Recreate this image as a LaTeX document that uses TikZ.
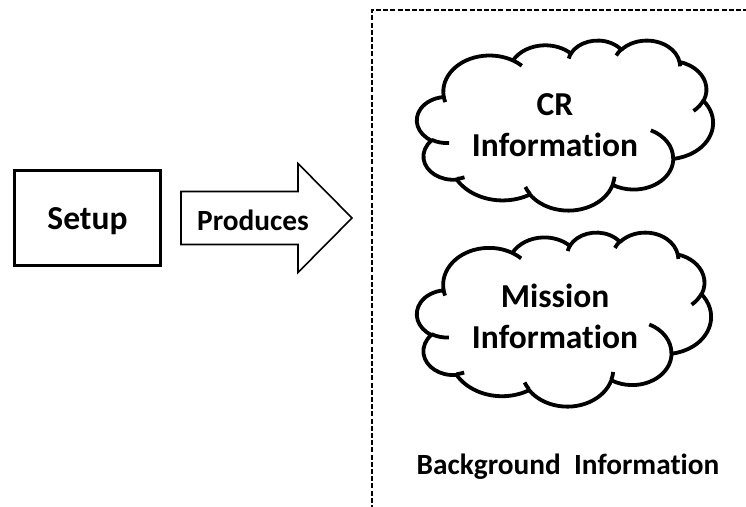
\documentclass[tikz,border=0pt]{standalone}
\usepackage{fontspec}
\setmainfont{Carlito}[RawFeature=-liga]
\usetikzlibrary{calc}

\tikzset{
  % geometric (visual) angle on an ellipse -> parametric angle
  declare function={cpar(\a,\w,\h)=atan2(\w*sin(\a),\h*cos(\a));},
  cloud arc/.style n args={4}{x radius=#1, y radius=#2,
    start angle={cpar(#3,#1,#2)},
    delta angle={mod(cpar(#3+#4,#1,#2)-cpar(#3,#1,#2)+720,360)}},
  cloudline/.style={line width=3.8pt, line join=round},
  foldline/.style={line width=3.8pt, line cap=butt},
  boxstyle/.style={draw, line width=3.2pt, minimum width=146pt, minimum height=95pt, inner sep=0pt},
  arrowstyle/.style={draw, line width=1.6pt, line join=miter},
  frameline/.style={line width=1.6pt, dash pattern=on 5pt off 2.2pt},
  bigtext/.style={font=\fontsize{33.5}{41}\selectfont\bfseries, align=center, inner sep=0pt},
  midtext/.style={font=\fontsize{29.3}{34}\selectfont\bfseries, inner sep=0pt},
}

% cloud outline in a 432 x 432 unit box, placed with its top-left corner at (#1,#2), size #3 x #4
\newcommand\drawcloud[4]{%
  \pgfmathsetmacro\cldsx{#3/432}%
  \pgfmathsetmacro\cldsy{#4/432}%
  \begin{scope}[shift={(#1pt,-#2pt)}, x=\cldsx pt, y=-\cldsy pt]
    \draw[cloudline, fill=white] (39,143.7)
      arc[cloud arc={67.53}{91.90}{-190.4875}{123.7805}]
      arc[cloud arc={53.33}{72.67}{-144.1024}{89.9452}]
      arc[cloud arc={43.65}{59.45}{-145.8079}{99.7230}]
      arc[cloud arc={48.57}{65.95}{-130.9861}{117.2417}]
      arc[cloud arc={53.33}{72.73}{-78.7089}{109.0269}]
      arc[cloud arc={67.75}{92.20}{-46.2673}{130.2690}]
      arc[cloud arc={57.85}{78.67}{0.6250}{114.0333}]
      arc[cloud arc={67.52}{92.15}{22.4516}{115.1726}]
      arc[cloud arc={77.20}{105.43}{66.2426}{75.7110}]
      arc[cloud arc={43.60}{59.18}{-274.9421}{146.7356}]
      arc[cloud arc={43.45}{59.45}{-246.8285}{152.5189}]
      -- cycle;
    % inner folds
    \draw[foldline] (46.93,261.77) arc[cloud arc={43.45}{59.45}{86.7420}{26.4295}];
    \draw[foldline] (69.28,348.99) arc[cloud arc={43.60}{59.18}{73.6105}{11.4475}];
    \draw[foldline] (164.78,390.90) arc[cloud arc={67.52}{92.15}{137.6242}{14.0811}];
    \draw[foldline] (288.27,347.51) arc[cloud arc={67.52}{92.15}{6.4533}{15.9984}];
    \draw[foldline] (341.29,229.54) arc[cloud arc={57.85}{78.67}{-70.2924}{70.9174}];
    \draw[foldline] (417.98,153.54) arc[cloud arc={53.33}{72.73}{30.3180}{27.7515}];
    \draw[foldline] (383.24,54.26) arc[cloud arc={48.57}{65.95}{-13.7443}{14.8589}];
    \draw[foldline] (290.78,39.52) arc[cloud arc={48.57}{65.95}{-149.1815}{18.1954}];
    \draw[foldline] (221.41,47.20) arc[cloud arc={43.65}{59.45}{-163.4943}{17.6864}];
    \draw[foldline] (140.00,51.92) arc[cloud arc={67.53}{91.90}{-66.7070}{12.3194}];
    \draw[foldline] (41.27,157.89) arc[cloud arc={67.53}{91.90}{157.6544}{11.8582}];
  \end{scope}%
}

\begin{document}
\begin{tikzpicture}[x=1pt, y=-1pt]
  \useasboundingbox (0,0) rectangle (746,506);

  % left block
  \node[boxstyle] (setup) at (87.5,218) {};
  \node[bigtext] (setuptext) at (87.5,221) {Setup};

  % block arrow
  \coordinate (a1) at (181,191.5);
  \coordinate (a2) at (298,191.5);
  \coordinate (a3) at (298,163.5);
  \coordinate (tip) at (352,218);
  \coordinate (a5) at (298,272.5);
  \coordinate (a6) at (298,244.5);
  \coordinate (a7) at (181,244.5);
  \draw[arrowstyle] (a1) -- (a2) -- (a3) -- (tip) -- (a5) -- (a6) -- (a7) -- cycle;
  \node[midtext] (produces) at (253,220) {Produces};

  % dashed container
  \coordinate (fb) at (372,510);
  \coordinate (fc) at (372,10);
  \coordinate (fr) at (750,10);
  \draw[frameline] (fb) -- (fc) -- (fr);

  % clouds
  \drawcloud{417}{40}{296}{170}
  \drawcloud{417}{232}{294}{174}

  \node[bigtext] (cr) at (555,125) {CR\\Information};
  \node[bigtext] (mission) at (555,316) {Mission\\Information};

  \node[midtext] (bg) at (568,467) {Background\ \ Information};
\end{tikzpicture}
\end{document}
